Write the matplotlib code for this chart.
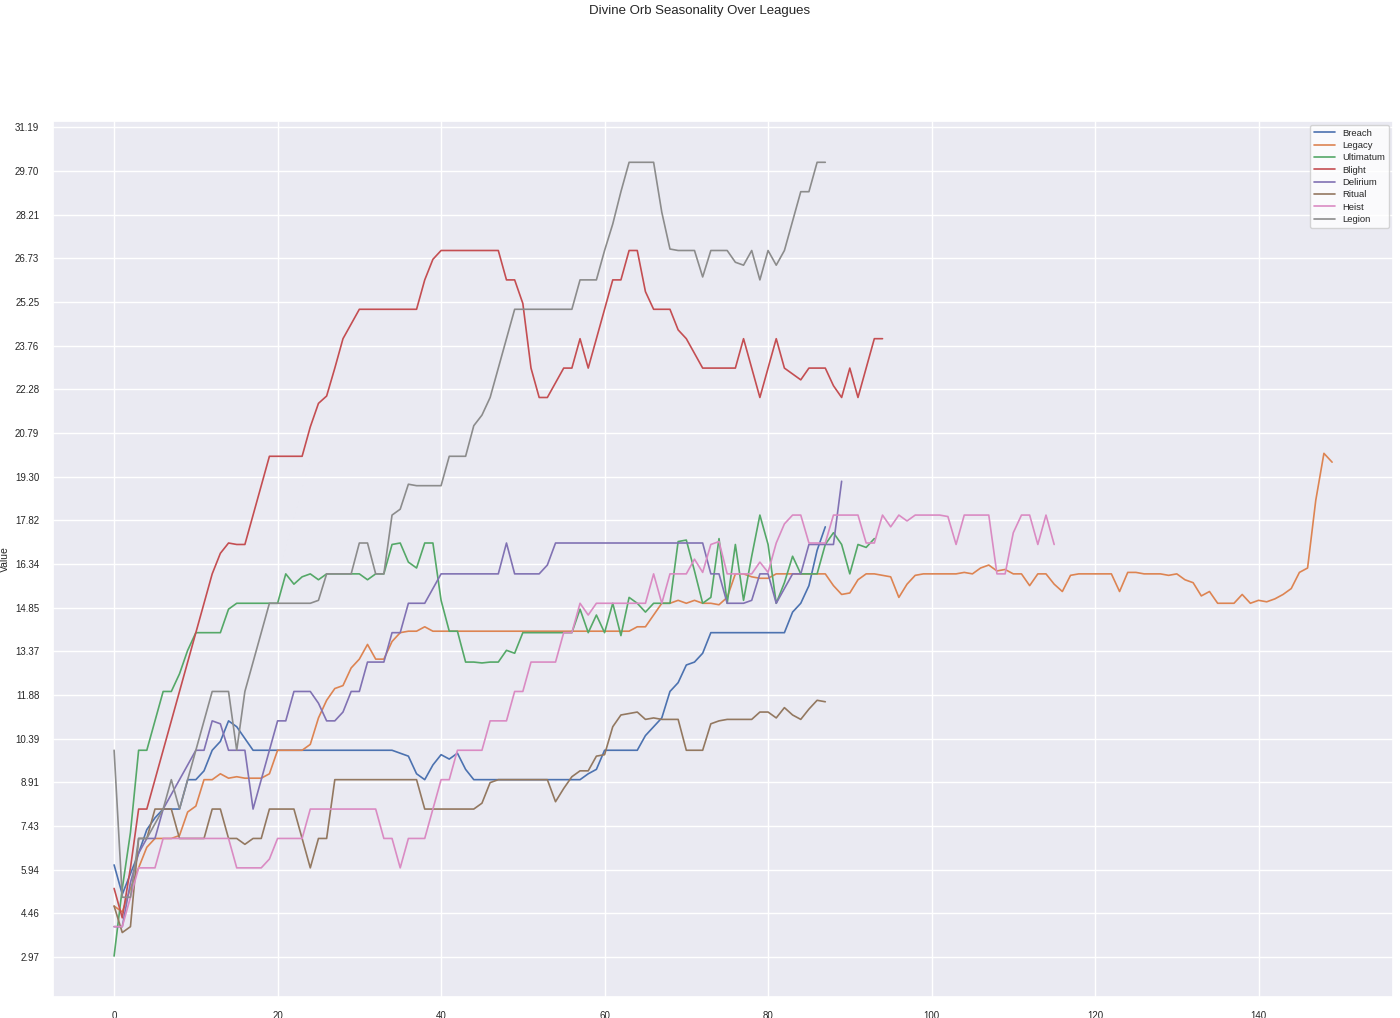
import matplotlib
matplotlib.use("Agg")
import matplotlib.pyplot as plt
import seaborn as sns

sns.set_theme(style="darkgrid", palette="deep")
plt.rcParams['font.family'] = ['Liberation Sans', 'DejaVu Sans']

breach = [6.1,5.1,5.8,6.5,7.3,7.7,8.0,8.0,8.0,9.0,9.0,9.3,10.0,10.3,11.0,10.8,10.4,
          10.0,10.0,10.0,10.0,10.0,10.0,10.0,10.0,10.0,10.0,10.0,10.0,10.0,10.0,10.0,10.0,10.0,10.0,
          9.9,9.8,9.2,9.0,9.5,9.85,9.7,9.9,9.35,9.0,
          9.0,9.0,9.0,9.0,9.0,9.0,9.0,9.0,9.0,9.0,9.0,9.0,9.0,
          9.2,9.35,10.0,10.0,10.0,10.0,10.0,10.5,10.8,11.1,12.0,12.3,12.9,13.0,13.3,
          14.0,14.0,14.0,14.0,14.0,14.0,14.0,14.0,14.0,14.0,14.7,15.0,15.6,16.8,17.6]
legacy = [4.7,4.5,5.3,6.0,6.7,7.0,7.0,7.0,7.1,7.9,8.1,9.0,9.0,9.2,9.05,9.1,9.05,9.05,9.05,9.2,
          10.0,10.0,10.0,10.0,10.2,11.1,11.7,12.1,12.2,12.8,13.1,13.6,13.1,13.1,13.7,14.0,14.05,14.05,14.2,14.05,
          14.05,14.05,14.05,14.05,14.05,14.05,14.05,14.05,14.05,14.05,14.05,14.05,14.05,14.05,14.05,14.05,
          14.05,14.05,14.05,14.05,14.05,14.05,14.05,14.05,14.2,14.2,14.6,15.0,15.0,15.1,15.0,15.1,15.0,15.0,
          14.95,15.2,16.0,16.0,15.9,15.85,15.85,16.0,16.0,16.0,16.0,16.0,16.0,16.0,15.6,15.3,15.35,15.8,
          16.0,16.0,15.95,15.9,15.2,15.65,15.95,16.0,16.0,16.0,16.0,16.0,16.05,16.0,16.2,16.3,16.1,16.15,
          16.0,16.0,15.6,16.0,16.0,15.65,15.4,15.95,16.0,16.0,16.0,16.0,16.0,15.4,16.05,16.05,16.0,16.0,
          16.0,15.95,16.0,15.8,15.7,15.25,15.4,15.0,15.0,15.0,15.3,15.0,15.1,15.05,15.15,15.3,15.5,16.05,
          16.2,18.5,20.1,19.8]
ultimatum = [3.0,5.3,7.2,10.0,10.0,11.0,12.0,12.0,12.6,13.4,14.0,14.0,14.0,14.0,14.8,15.0,15.0,15.0,15.0,15.0,
             15.0,16.0,15.65,15.9,16.0,15.8,16.0,16.0,16.0,16.0,16.0,15.8,16.0,16.0,17.0,17.05,16.4,16.2,17.05,17.05,
             15.1,14.05,14.05,13.0,13.0,12.97,13.0,13.0,13.4,13.3,14.0,14.0,14.0,14.0,14.0,14.0,14.0,14.8,14.0,14.6,
             14.0,15.0,13.9,15.2,15.0,14.7,15.0,15.0,15.0,17.1,17.15,16.1,15.0,15.2,17.2,15.0,17.0,15.1,16.6,18.0,
             17.0,15.0,15.7,16.6,16.0,16.0,16.0,17.0,17.4,17.0,16.0,17.0,16.9,17.2]
blight = [5.3,4.3,6.0,8.0,8.0,9.0,10.0,11.0,12.0,13.0,14.0,15.0,16.0,16.7,17.05,17.0,17.0,18.0,19.0,20.0,
          20.0,20.0,20.0,20.0,21.0,21.8,22.05,23.0,24.0,24.5,25.0,25.0,25.0,25.0,25.0,25.0,25.0,25.0,26.0,26.7,
          27.0,27.0,27.0,27.0,27.0,27.0,27.0,27.0,26.0,26.0,25.2,23.0,22.0,22.0,22.5,23.0,23.0,24.0,23.0,24.0,
          25.0,26.0,26.0,27.0,27.0,25.6,25.0,25.0,25.0,24.3,24.0,23.5,23.0,23.0,23.0,23.0,23.0,24.0,23.0,22.0,
          23.0,24.0,23.0,22.8,22.6,23.0,23.0,23.0,22.4,22.0,23.0,22.0,23.0,24.0,24.0]
delirium = [4.0,4.0,5.5,6.5,7.0,7.0,8.0,8.5,9.0,9.5,10.0,10.0,11.0,10.9,10.0,10.0,10.0,8.0,9.0,10.0,
            11.0,11.0,12.0,12.0,12.0,11.6,11.0,11.0,11.3,12.0,12.0,13.0,13.0,13.0,14.0,14.0,15.0,15.0,15.0,15.5,
            16.0,16.0,16.0,16.0,16.0,16.0,16.0,16.0,17.05,16.0,16.0,16.0,16.0,16.3,17.05,17.05,17.05,17.05,17.05,17.05,
            17.05,17.05,17.05,17.05,17.05,17.05,17.05,17.05,17.05,17.05,17.05,17.05,17.05,16.0,16.0,15.0,15.0,15.0,15.1,16.0,
            16.0,15.0,15.5,16.0,16.0,17.0,17.0,17.0,17.0,19.15]
ritual = [4.7,3.8,4.0,7.0,7.0,8.0,8.0,8.0,7.0,7.0,7.0,7.0,8.0,8.0,7.0,7.0,6.8,7.0,7.0,8.0,
          8.0,8.0,8.0,7.0,6.0,7.0,7.0,9.0,9.0,9.0,9.0,9.0,9.0,9.0,9.0,9.0,9.0,9.0,8.0,8.0,
          8.0,8.0,8.0,8.0,8.0,8.2,8.9,9.0,9.0,9.0,9.0,9.0,9.0,9.0,8.25,8.7,9.1,9.3,9.3,9.8,
          9.85,10.8,11.2,11.25,11.3,11.05,11.1,11.05,11.05,11.05,10.0,10.0,10.0,10.9,11.0,11.05,11.05,11.05,11.05,11.3,
          11.3,11.1,11.45,11.2,11.05,11.4,11.7,11.65]
heist = [4.0,4.0,5.0,6.0,6.0,6.0,7.0,7.0,7.0,7.0,7.0,7.0,7.0,7.0,7.0,6.0,6.0,6.0,6.0,6.3,
         7.0,7.0,7.0,7.0,8.0,8.0,8.0,8.0,8.0,8.0,8.0,8.0,8.0,7.0,7.0,6.0,7.0,7.0,7.0,8.0,
         9.0,9.0,10.0,10.0,10.0,10.0,11.0,11.0,11.0,12.0,12.0,13.0,13.0,13.0,13.0,14.0,14.0,15.0,14.6,15.0,
         15.0,15.0,15.0,15.0,15.0,15.0,16.0,15.0,16.0,16.0,16.0,16.5,16.05,17.0,17.1,16.0,16.0,16.0,16.0,16.4,
         16.05,17.05,17.7,18.0,18.0,17.05,17.05,17.05,18.0,18.0,18.0,18.0,17.05,17.05,18.0,17.6,18.0,17.8,18.0,18.0,
         18.0,18.0,17.95,17.0,18.0,18.0,18.0,18.0,16.0,16.0,17.4,18.0,18.0,17.0,18.0,17.0]
legion = [10.0,5.0,5.0,7.0,7.0,7.5,8.0,9.0,8.0,9.0,10.0,11.0,12.0,12.0,12.0,10.0,12.0,13.0,14.0,15.0,
          15.0,15.0,15.0,15.0,15.0,15.1,16.0,16.0,16.0,16.0,17.05,17.05,16.0,16.0,18.0,18.2,19.05,19.0,19.0,19.0,
          19.0,20.0,20.0,20.0,21.04,21.4,22.0,23.0,24.0,25.0,25.0,25.0,25.0,25.0,25.0,25.0,25.0,26.0,26.0,26.0,
          27.0,27.9,29.0,30.0,30.0,30.0,30.0,28.3,27.05,27.0,27.0,27.0,26.1,27.0,27.0,27.0,26.6,26.5,27.0,26.0,
          27.0,26.5,27.0,28.0,29.0,29.0,30.0,30.0]

series_names = ["Breach", "Legacy", "Ultimatum", "Blight", "Delirium", "Ritual", "Heist", "Legion"]
series_values = [breach, legacy, ultimatum, blight, delirium, ritual, heist, legion]
ytick_labels = ["2.97", "4.46", "5.94", "7.43", "8.91", "10.39", "11.88", "13.37", "14.85", "16.34",
                "17.82", "19.30", "20.79", "22.28", "23.76", "25.25", "26.73", "28.21", "29.70", "31.19"]

fig = plt.figure(figsize=(14, 10.18), dpi=100)
ax = fig.add_axes([0.038, 0.021, 0.957, 0.86])
for name, vals in zip(series_names, series_values):
    ax.plot(range(len(vals)), vals, label=name, linewidth=1.2)

ax.set_yticks([float(t) for t in ytick_labels])
ax.set_yticklabels(ytick_labels)
ax.set_ylim(1.62, 31.4)
ax.tick_params(labelsize=7, pad=4)
ax.set_ylabel("Value", fontsize=7.5)
ax.yaxis.set_label_coords(-0.032, 0.5)
ax.legend(loc="upper right", fontsize=6.8, labelspacing=0.35, handlelength=2.2,
          facecolor="white", framealpha=0.8, borderaxespad=0.4)
fig.suptitle("Divine Orb Seasonality Over Leagues", fontsize=9.5, y=0.995)
fig.savefig("out.png")
